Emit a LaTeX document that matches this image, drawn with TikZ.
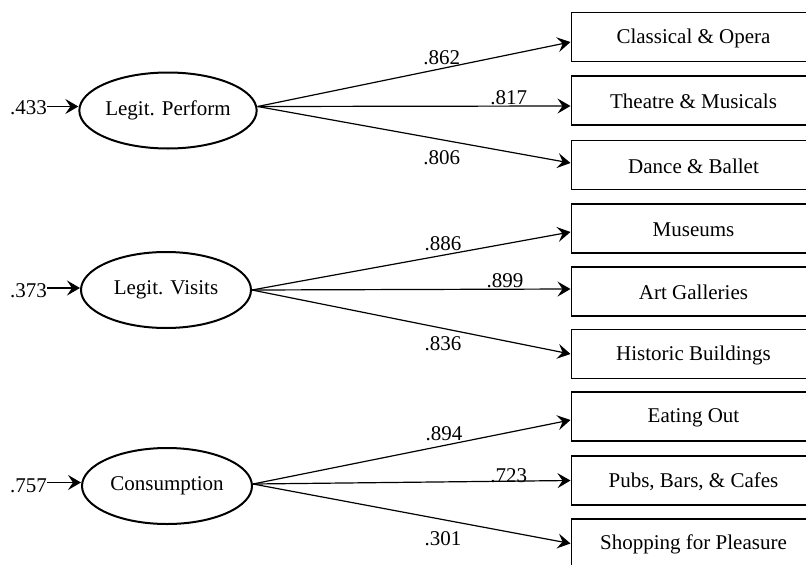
\documentclass[tikz,border=0pt]{standalone}
\usepackage{fontspec}
\setmainfont{Liberation Serif}
\usetikzlibrary{shapes.geometric,arrows.meta}
\begin{document}
\begin{tikzpicture}[x=1pt,y=-1pt,
  every node/.style={font=\fontsize{21pt}{25pt}\selectfont, inner sep=0pt},
  latent/.style={draw, ellipse, line width=2pt, minimum width=170pt, minimum height=76pt},
  observed/.style={draw, rectangle, line width=1.7pt, minimum width=247pt, minimum height=49pt, anchor=west},
  path/.style={line width=1.2pt, -{Stealth[length=13pt,width=15pt,inset=5pt]}},
  coef/.style={anchor=center}]
\useasboundingbox (0,0) rectangle (806,565);
\clip (0,0) rectangle (806,565);

% latent variables
\node[latent] (e1) at (168,110.5) {Legit. Perform};
\node[latent] (e2) at (166,290) {Legit. Visits};
\node[latent] (e3) at (167,486) {Consumption};

% observed
\node[observed] (b1) at (570.5,37) {};
\node at (693.5,38) (t1) {Classical \& Opera};
\node[observed] (b2) at (570.5,100.5) {};
\node at (693.5,101.5) (t2) {Theatre \& Musicals};
\node[observed] (b3) at (570.5,165) {};
\node at (693.5,166) (t3) {Dance \& Ballet};

\node[observed] (b4) at (570.5,228.5) {};
\node at (693.5,229.5) (t4) {Museums};
\node[observed] (b5) at (570.5,291.5) {};
\node at (693.5,292.5) (t5) {Art Galleries};
\node[observed] (b6) at (570.5,354) {};
\node at (693.5,355) (t6) {Historic Buildings};

\node[observed] (b7) at (570.5,416.5) {};
\node at (693.5,417.5) (t7) {Eating Out};
\node[observed] (b8) at (570.5,480.5) {};
\node at (693.5,481.5) (t8) {Pubs, Bars, \& Cafes};
\node[observed] (b9) at (570.5,543.5) {};
\node at (693.5,544.5) (t9) {Shopping for Pleasure};

% residual labels and arrows
\node (r1) at (28.5,107.5) {.433};
\node (r2) at (28.5,290.5) {.373};
\node (r3) at (28.5,485.5) {.757};
\draw[path] ([yshift=1pt]r1.east) -- ([yshift=1pt]r1.east -| e1.west);
\draw[path] ([yshift=2.5pt]r2.east) -- ([yshift=2.5pt]r2.east -| e2.west);
\draw[path] ([yshift=3pt]r3.east) -- ([yshift=3pt]r3.east -| e3.west);

% loadings
\draw[path] ([yshift=4pt]e1.east) -- ([yshift=-5pt]b1.west);
\draw[path] ([yshift=4pt]e1.east) -- ([yshift=-5.5pt]b2.west);
\draw[path] ([yshift=4pt]e1.east) -- ([yshift=2pt]b3.west);

\draw[path] (e2.east) -- ([yshift=-3.5pt]b4.west);
\draw[path] (e2.east) -- ([yshift=2.5pt]b5.west);
\draw[path] (e2.east) -- (b6.west);

\draw[path] ([yshift=2pt]e3.east) -- ([yshift=-3.5pt]b7.west);
\draw[path] ([yshift=2pt]e3.east) -- (b8.west);
\draw[path] ([yshift=2pt]e3.east) -- (b9.west);

% coefficient labels
\node[coef] (c1) at (441.7,57.5) {.862};
\node[coef] (c2) at (508.7,97.5) {.817};
\node[coef] (c3) at (441.7,158) {.806};
\node[coef] (c4) at (443,244) {.886};
\node[coef] (c5) at (505,281) {.899};
\node[coef] (c6) at (443,344) {.836};
\node[coef] (c7) at (444,434) {.894};
\node[coef] (c8) at (508.7,476) {.723};
\node[coef] (c9) at (443,539) {.301};
\end{tikzpicture}
\end{document}
